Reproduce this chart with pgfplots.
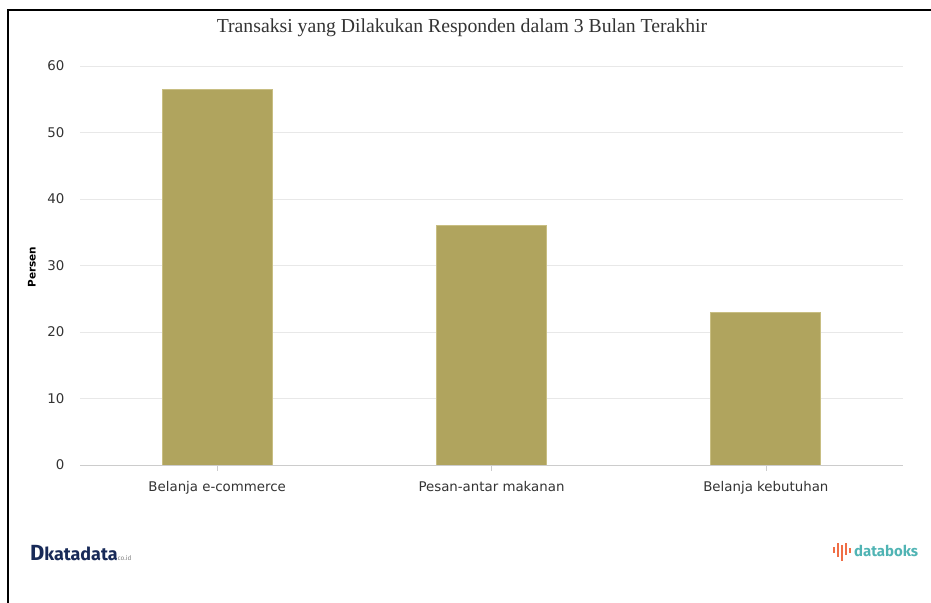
\documentclass[border=0pt]{standalone}
\usepackage{fontspec}
\setmainfont{DejaVu Sans}
\newfontfamily\titlefont{Liberation Serif}
\newfontfamily\logofont{Fira Sans}
\usepackage{pgfplots}
\pgfplotsset{compat=1.18}
\definecolor{barc}{RGB}{176,164,94}
\definecolor{barb}{RGB}{200,190,130}
\definecolor{gridc}{RGB}{232,232,232}
\definecolor{axc}{RGB}{204,204,204}
\definecolor{txtc}{RGB}{51,51,51}
\definecolor{navy}{RGB}{24,42,88}
\definecolor{teal}{RGB}{80,180,180}
\definecolor{orng}{RGB}{240,110,70}
\begin{document}
\begin{tikzpicture}[x=1bp,y=1bp]
\path[use as bounding box] (0,0) rectangle (931,603);
\draw[line width=2bp,black] (8,0) -- (8,593) -- (931,593);
\node[font=\titlefont\fontsize{19.8}{22}\selectfont, text=txtc] at (462,575) {Transaksi yang Dilakukan Responden dalam 3 Bulan Terakhir};
\node[rotate=90, font=\fontsize{10.5}{12}\selectfont\bfseries] at (32,336) {Persen};
\begin{axis}[
  at={(80bp,138bp)}, anchor=south west,
  scale only axis, width=823bp, height=399bp,
  xmin=-0.5, xmax=2.5, ymin=0, ymax=60,
  ytick={0,10,20,30,40,50,60},
  xtick={0,1,2},
  xticklabels={Belanja e-commerce, Pesan-antar makanan, Belanja kebutuhan},
  axis lines*=left,
  y axis line style={draw=none},
  x axis line style={draw=axc},
  ytick style={draw=none},
  xtick style={draw=axc},
  tick align=outside,
  major tick length=6bp,
  ymajorgrids, grid style={draw=gridc, line width=0.8bp},
  tick label style={font=\fontsize{13.4}{15}\selectfont, text=txtc},
  yticklabel style={xshift=-6bp},
  xticklabel style={yshift=-7bp},
  /pgf/number format/assume math mode=true,
]
\addplot[ybar, bar width=110bp, fill=barc, draw=barb, line width=0.8bp] coordinates {(0,56.5) (1,36) (2,23)};
\end{axis}
% logos
\node[anchor=west, inner sep=0, text=navy, font=\logofont\bfseries] at (30,50) {{\fontsize{22}{24}\selectfont D}{\fontsize{18}{20}\selectfont katadata}{\fontsize{6.5}{7}\selectfont\mdseries\color{gray}co.id}};
\begin{scope}[line width=2bp, orng]
\draw (834,50) -- (834,56);
\draw (838,46) -- (838,60);
\draw (842,42) -- (842,58);
\draw (846,48) -- (846,60);
\draw (850,50) -- (850,55);
\end{scope}
\node[anchor=west, inner sep=0, text=teal, font=\logofont\fontsize{15}{17}\selectfont\bfseries] at (854,52) {databoks};
\end{tikzpicture}
\end{document}
